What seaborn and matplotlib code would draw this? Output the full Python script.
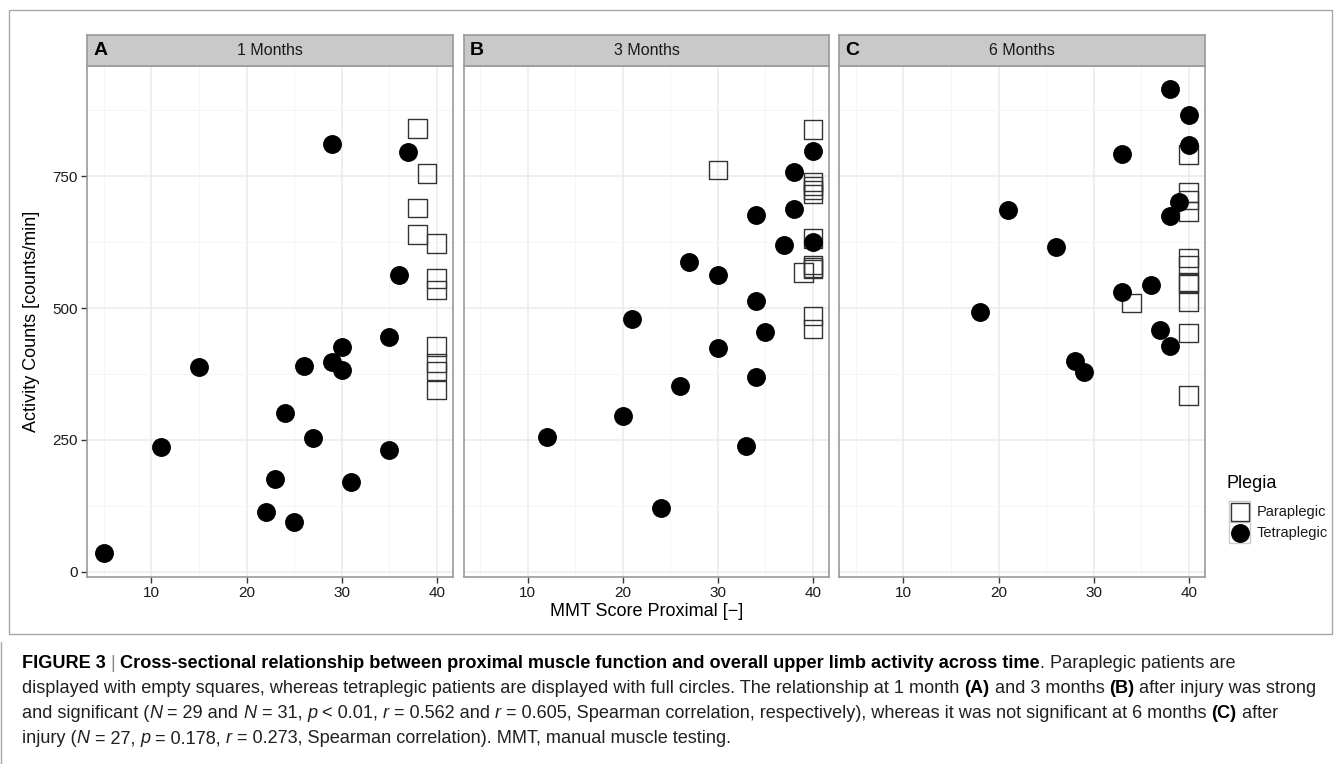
import matplotlib
matplotlib.use('Agg')
import matplotlib.pyplot as plt
import seaborn as sns
import pandas as pd
from matplotlib.patches import Rectangle
from matplotlib import font_manager

W, H, DPI = 1342, 764, 100

# ---------------- data ----------------
panel_names = ["1 Months", "3 Months", "6 Months"]
panel_letters = ["A", "B", "C"]

para_A_x = [38, 39, 38, 38, 40, 40, 40, 40, 40, 40, 40]
para_A_y = [840, 755, 690, 639, 622, 556, 534, 427, 396, 381, 345]
tetra_A_x = [29, 37, 36, 35, 30, 29, 30, 26, 15, 24, 27, 11, 35, 23, 31, 22, 25, 5]
tetra_A_y = [811, 796, 562, 445, 427, 397, 383, 390, 389, 302, 253, 237, 231, 176, 170, 113, 95, 35]

para_B_x = [40, 30, 40, 40, 40, 40, 40, 40, 40, 40, 39, 40, 40]
para_B_y = [838, 761, 739, 731, 723, 716, 632, 582, 577, 574, 567, 485, 460]
tetra_B_x = [40, 38, 38, 34, 37, 40, 27, 30, 34, 21, 35, 30, 34, 26, 20, 12, 33, 24]
tetra_B_y = [798, 757, 688, 677, 619, 625, 587, 563, 513, 479, 455, 425, 370, 352, 295, 256, 239, 121]

para_C_x = [40, 40, 40, 40, 40, 40, 40, 40, 40, 34, 40, 40]
para_C_y = [791, 719, 704, 683, 595, 581, 549, 546, 512, 509, 453, 334]
tetra_C_x = [38, 40, 40, 33, 21, 39, 38, 26, 36, 33, 18, 37, 38, 28, 29]
tetra_C_y = [915, 865, 809, 792, 686, 700, 675, 616, 544, 530, 492, 458, 428, 400, 379]

x_ticks = [10, 20, 30, 40]
y_ticks = [0, 250, 500, 750]

rows = []
for name, px, py, tx, ty in [
    (panel_names[0], para_A_x, para_A_y, tetra_A_x, tetra_A_y),
    (panel_names[1], para_B_x, para_B_y, tetra_B_x, tetra_B_y),
    (panel_names[2], para_C_x, para_C_y, tetra_C_x, tetra_C_y),
]:
    for a, b in zip(px, py):
        rows.append((name, a, b, "Paraplegic"))
    for a, b in zip(tx, ty):
        rows.append((name, a, b, "Tetraplegic"))
df = pd.DataFrame(rows, columns=["Months", "MMT", "Activity", "Plegia"])

# ---------------- style ----------------
sns.set_theme(style="white")
plt.rcParams['font.family'] = ['Liberation Sans', 'DejaVu Sans']

fig = plt.figure(figsize=(W / DPI, H / DPI), dpi=DPI)
fig.patch.set_facecolor('white')

def fx(x):
    return x / W

def fy(y):
    return 1 - y / H

lefts = [87.3, 463.5, 839.3]
pw = 366.0
p_top, p_bot = 65.7, 576.7
s_top = 35.0
border_col = '#9A9A9A'

for i, (name, letter) in enumerate(zip(panel_names, panel_letters)):
    l = lefts[i]
    ax = fig.add_axes([fx(l), fy(p_bot), pw / W, (p_bot - p_top) / H])
    sub = df[df.Months == name]
    sns.scatterplot(data=sub[sub.Plegia == "Paraplegic"], x="MMT", y="Activity",
                    marker="s", s=175, edgecolor='#333333', linewidth=1.0,
                    legend=False, ax=ax, zorder=3)
    ax.collections[-1].set_facecolor('none')
    sns.scatterplot(data=sub[sub.Plegia == "Tetraplegic"], x="MMT", y="Activity",
                    marker="o", s=185, color='black', edgecolor='black', linewidth=0,
                    legend=False, ax=ax, zorder=4)
    ax.set_xlim(3.25, 41.75)
    ax.set_ylim(-9, 959)
    ax.set_xticks(x_ticks)
    ax.set_xticks([5, 15, 25, 35], minor=True)
    ax.set_yticks(y_ticks)
    ax.set_yticks([125, 375, 625, 875], minor=True)
    ax.grid(which='major', color='#EBEBEB', lw=1.1)
    ax.grid(which='minor', color='#F5F5F5', lw=0.7)
    ax.set_axisbelow(True)
    ax.set_xlabel('')
    ax.set_ylabel('')
    for sp in ax.spines.values():
        sp.set_color(border_col)
        sp.set_linewidth(1.2)
        sp.set_visible(True)
    ax.tick_params(which='minor', length=0)
    ax.tick_params(axis='x', which='major', length=4, width=1, color='#333333',
                   labelsize=11, labelcolor='#1a1a1a', pad=3, direction='out', bottom=True)
    if i == 0:
        ax.tick_params(axis='y', which='major', length=4, width=1, color='#333333',
                       labelsize=11, labelcolor='#1a1a1a', pad=3, direction='out', left=True)
    else:
        ax.tick_params(axis='y', which='major', length=0, labelleft=False)

    sax = fig.add_axes([fx(l), fy(p_top), pw / W, (p_top - s_top) / H])
    sax.set_facecolor('#C9C9C9')
    sax.set_xticks([])
    sax.set_yticks([])
    for sp in sax.spines.values():
        sp.set_color(border_col)
        sp.set_linewidth(1.2)
        sp.set_visible(True)
    sax.text(0.5, 0.5, name, transform=sax.transAxes, ha='center', va='center',
             fontsize=11.5, color='#1a1a1a')
    sax.text(0.016, 0.5, letter, transform=sax.transAxes, ha='left', va='center',
             fontsize=14, fontweight='bold', color='black')

fig.text(fx(32), fy((p_top + p_bot) / 2), "Activity Counts [counts/min]", rotation=90,
         ha='center', va='center', fontsize=13, color='black')
fig.text(fx((lefts[0] + lefts[2] + pw) / 2), fy(612), "MMT Score Proximal [\u2212]",
         ha='center', va='center', fontsize=13, color='black')

# ---------------- overlay: legend, frame, caption ----------------
ov = fig.add_axes([0, 0, 1, 1], zorder=10)
ov.set_xlim(0, W)
ov.set_ylim(H, 0)
ov.axis('off')

ov.add_patch(Rectangle((9, 10), 1323, 624, fill=False, ec='#A8A8A8', lw=1.0))
ov.plot([1, 1], [642, 764], color='#A8A8A8', lw=1.0)

ov.text(1227, 483, "Plegia", fontsize=13, ha='left', va='center', color='black')
labels = ["Paraplegic", "Tetraplegic"]
for k, lab in enumerate(labels):
    yk = 501 + 21 * k
    ov.add_patch(Rectangle((1229, yk), 21, 21, fc='white', ec='#CCCCCC', lw=1.0))
    if k == 0:
        ov.plot(1239.5, yk + 10.5, marker='s', ms=13.2, mfc='none', mec='#333333', mew=1.0)
    else:
        ov.plot(1239.5, yk + 10.5, marker='o', ms=13.6, mfc='black', mec='black', mew=0)
    ov.text(1257, yk + 11, lab, fontsize=10.5, ha='left', va='center', color='#1a1a1a')

# caption
names = {f.name for f in font_manager.fontManager.ttflist}
cap_family = ['Liberation Sans Narrow', 'Liberation Sans', 'DejaVu Sans'] if 'Liberation Sans Narrow' in names \
    else ['Liberation Sans', 'DejaVu Sans']

N = "N"
cap_lines = [
    [("FIGURE 3", 'bold', 'normal', 'black'), (" | ", 'normal', 'normal', '#888888'),
     ("Cross-sectional relationship between proximal muscle function and overall upper limb activity across time",
      'bold', 'normal', 'black'),
     (". Paraplegic patients are", 'normal', 'normal', '#231F20')],
    [("displayed with empty squares, whereas tetraplegic patients are displayed with full circles. The relationship at 1 month ",
      'normal', 'normal', '#231F20'), ("(A)", 'bold', 'normal', 'black'),
     (" and 3 months ", 'normal', 'normal', '#231F20'), ("(B)", 'bold', 'normal', 'black'),
     (" after injury was strong", 'normal', 'normal', '#231F20')],
    [("and significant (", 'normal', 'normal', '#231F20'), (N, 'normal', 'italic', '#231F20'),
     (" = 29 and ", 'normal', 'normal', '#231F20'), (N, 'normal', 'italic', '#231F20'),
     (" = 31, ", 'normal', 'normal', '#231F20'), ("p", 'normal', 'italic', '#231F20'),
     (" < 0.01, ", 'normal', 'normal', '#231F20'), ("r", 'normal', 'italic', '#231F20'),
     (" = 0.562 and ", 'normal', 'normal', '#231F20'), ("r", 'normal', 'italic', '#231F20'),
     (" = 0.605, Spearman correlation, respectively), whereas it was not significant at 6 months ",
      'normal', 'normal', '#231F20'), ("(C)", 'bold', 'normal', 'black'),
     (" after", 'normal', 'normal', '#231F20')],
    [("injury (", 'normal', 'normal', '#231F20'), (N, 'normal', 'italic', '#231F20'),
     (" = 27, ", 'normal', 'normal', '#231F20'), ("p", 'normal', 'italic', '#231F20'),
     (" = 0.178, ", 'normal', 'normal', '#231F20'), ("r", 'normal', 'italic', '#231F20'),
     (" = 0.273, Spearman correlation). MMT, manual muscle testing.", 'normal', 'normal', '#231F20')],
]
cap_y = [668, 693, 718, 743]

fig.canvas.draw()
renderer = fig.canvas.get_renderer()

def run_width(s, fs, weight, style):
    t1 = ov.text(0, 0, "x" + s + "x", fontsize=fs, fontweight=weight, fontstyle=style, family=cap_family)
    t2 = ov.text(0, 0, "xx", fontsize=fs, fontweight=weight, fontstyle=style, family=cap_family)
    w = t1.get_window_extent(renderer).width - t2.get_window_extent(renderer).width
    t1.remove()
    t2.remove()
    return w

base_fs = 11.0
w2 = sum(run_width(s, base_fs, wt, st) for s, wt, st, c in cap_lines[1])
cap_fs = base_fs * 1296.0 / w2
cap_fs = min(cap_fs, 14.0)

for line, yb in zip(cap_lines, cap_y):
    x = 22.0
    for s, wt, st, c in line:
        ov.text(x, yb, s, fontsize=cap_fs, fontweight=wt, fontstyle=st, color=c,
                family=cap_family, ha='left', va='baseline')
        x += run_width(s, cap_fs, wt, st)

fig.savefig("out.png", dpi=DPI, facecolor='white')
